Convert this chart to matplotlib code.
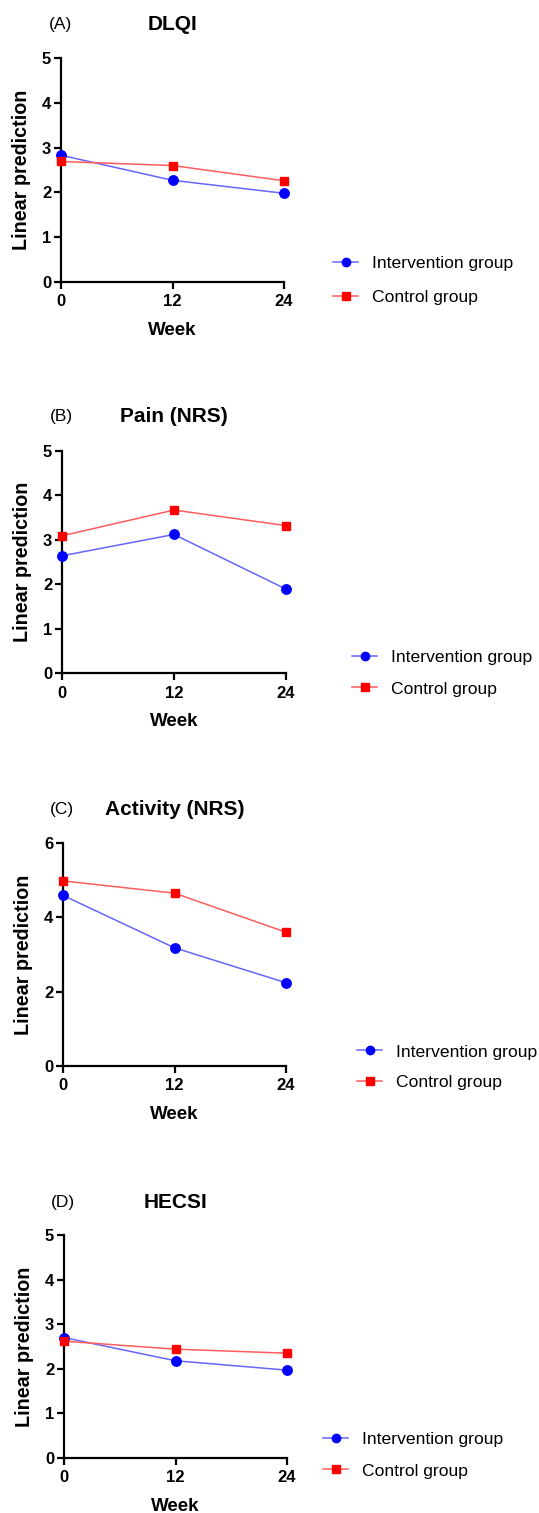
import matplotlib
matplotlib.use("Agg")
import matplotlib.pyplot as plt
from matplotlib.lines import Line2D

plt.rcParams['font.family'] = ['Liberation Sans', 'DejaVu Sans']

weeks = [0, 12, 24]
week_labels = ["0", "12", "24"]

panel_letters = ["(A)", "(B)", "(C)", "(D)"]
panel_titles = ["DLQI", "Pain (NRS)", "Activity (NRS)", "HECSI"]

intervention_dlqi = [2.83, 2.27, 1.98]
control_dlqi = [2.69, 2.60, 2.26]
intervention_pain = [2.64, 3.12, 1.89]
control_pain = [3.09, 3.67, 3.32]
intervention_activity = [4.59, 3.18, 2.24]
control_activity = [4.98, 4.65, 3.60]
intervention_hecsi = [2.70, 2.18, 1.97]
control_hecsi = [2.62, 2.44, 2.35]

intervention = [intervention_dlqi, intervention_pain, intervention_activity, intervention_hecsi]
control = [control_dlqi, control_pain, control_activity, control_hecsi]
y_max = [5, 5, 6, 5]
y_ticks = [[0, 1, 2, 3, 4, 5], [0, 1, 2, 3, 4, 5], [0, 2, 4, 6], [0, 1, 2, 3, 4, 5]]

series_labels = ["Intervention group", "Control group"]

W, H = 539, 1513
fig = plt.figure(figsize=(W / 100, H / 100), dpi=100)

# pixel layout: (left, right, top, bottom)
axes_px = [(61, 284, 58, 282), (62, 286, 451, 673), (63, 286, 843, 1066), (64, 287, 1235, 1458)]
title_y = [25, 417, 810, 1202]
legend_px = [(333, 280.5, 1.1), (352, 673, 0.95), (357, 1067, 0.85), (323, 1455, 0.95)]

blue = "#0000ff"
red = "#ff0000"
blue_line = "#6666ff"
red_line = "#ff5c5c"

for i in range(4):
    l, r, t, b = axes_px[i]
    ax = fig.add_axes([l / W, 1 - b / H, (r - l) / W, (b - t) / H])
    ax.plot(weeks, intervention[i], color=blue_line, lw=1.1, zorder=3, clip_on=False)
    ax.plot(weeks, intervention[i], ls='none', marker='o', ms=6.8, color=blue, zorder=4, clip_on=False)
    ax.plot(weeks, control[i], color=red_line, lw=1.1, zorder=3, clip_on=False)
    ax.plot(weeks, control[i], ls='none', marker='s', ms=6.2, color=red, zorder=4, clip_on=False)
    ax.set_xlim(0, 24)
    ax.set_ylim(0, y_max[i])
    ax.set_xticks(weeks)
    ax.set_xticklabels(week_labels)
    ax.set_yticks(y_ticks[i])
    for s in ['top', 'right']:
        ax.spines[s].set_visible(False)
    for s in ['left', 'bottom']:
        ax.spines[s].set_linewidth(1.6)
    ax.tick_params(direction='out', length=5, width=1.6, labelsize=12, pad=2)
    ax.tick_params(axis='x', pad=4)
    for lab in ax.get_xticklabels() + ax.get_yticklabels():
        lab.set_fontweight('bold')
    ax.set_xlabel("Week", fontsize=13.5, fontweight='bold', labelpad=9)
    ax.set_ylabel("Linear prediction", fontsize=14.2, fontweight='bold', labelpad=8)
    cx = (l + r) / 2
    fig.text(cx / W, 1 - title_y[i] / H, panel_titles[i], fontsize=15, fontweight='bold',
             ha='center', va='center')
    fig.text((l - 1) / W, 1 - title_y[i] / H, panel_letters[i], fontsize=12.5,
             ha='center', va='center')

    handles = [
        Line2D([], [], color=blue_line, lw=1.1, marker='o', ms=6, mfc=blue, mec=blue),
        Line2D([], [], color=red_line, lw=1.1, marker='s', ms=5.5, mfc=red, mec=red),
    ]
    lx, ly, ls = legend_px[i]
    ax.legend(handles, series_labels, loc='center left', bbox_to_anchor=(lx / W, 1 - ly / H),
              bbox_transform=fig.transFigure, frameon=False, fontsize=12.6, handlelength=1.45,
              handletextpad=0.8, labelspacing=ls, borderpad=0, borderaxespad=0)

fig.savefig("out.png", dpi=100)
